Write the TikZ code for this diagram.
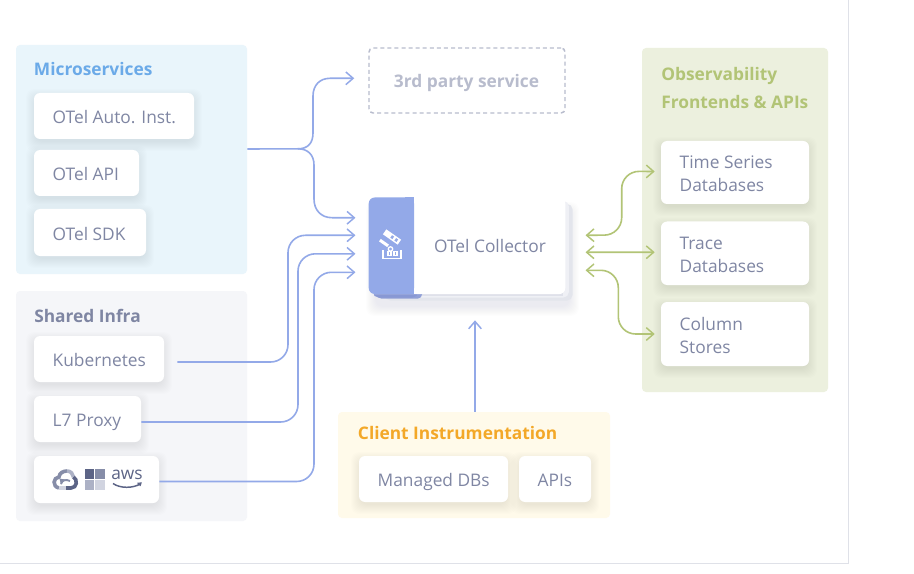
\documentclass[tikz,border=0pt]{standalone}
\usepackage{fontspec}
\setmainfont{Open Sans}
\usetikzlibrary{arrows.meta,calc}
\definecolor{ink}{HTML}{7F86A3}
\definecolor{flow}{HTML}{93A9E8}
\definecolor{leaf}{HTML}{B2C476}
\definecolor{edgeline}{HTML}{DFE1E8}
\definecolor{microbg}{HTML}{E9F5FB}
\definecolor{infrabg}{HTML}{F5F6F9}
\definecolor{frontbg}{HTML}{ECF0DE}
\definecolor{clientbg}{HTML}{FFFAEA}
\definecolor{microtitle}{HTML}{6BAAE8}
\definecolor{clienttitle}{HTML}{F3A828}
\definecolor{ghost}{HTML}{B8BCCD}
\definecolor{logoa}{HTML}{5C6486}
\definecolor{logob}{HTML}{868DA8}
\definecolor{logoc}{HTML}{ACB1C5}
\definecolor{logod}{HTML}{D1D4E0}
\definecolor{shadowblue}{HTML}{3C4678}
\definecolor{stackone}{HTML}{E3E5EC}
\definecolor{stacktwo}{HTML}{EFF0F5}
\definecolor{stackthree}{HTML}{DFE1EA}
\definecolor{bluedark}{HTML}{8898D4}
\newcommand{\softshadow}[5]{%
  \foreach \i in {1,...,10}{
    \fill[#5,opacity=.009,rounded corners=6pt]
      (#1-\i+2,#2-\i+6) rectangle (#3+\i-2,#4+\i+2);
  }}
\newcommand{\card}[6]{% name x0 y0 x1 y1 text
  \softshadow{#2}{#3}{#4}{#5}{black}
  \pgfmathsetmacro{\cw}{(#4-#2)*.75}
  \pgfmathsetmacro{\ch}{(#5-#3)*.75}
  \node[cardbox,minimum width=\cw pt,minimum height=\ch pt] (#1) at ({(#2+#4)/2},{(#3+#5)/2}) {};
  \node[cardtext] (#1t) at ($(#1.west)+(18.7,3.2)$) {\strut #6\strut};
}
\tikzset{
  x=.75pt,y=-.75pt,
  panel/.style={rounded corners=3pt,inner sep=0pt},
  cardbox/.style={fill=white,rounded corners=4.5pt,inner sep=0pt},
  cardtext/.style={text=ink,font=\fontsize{13}{17.2}\selectfont,align=left,inner sep=0pt,anchor=west},
  paneltitle/.style={font=\fontsize{13}{21}\selectfont\bfseries,anchor=west,align=left,inner sep=0pt},
  flowline/.style={flow,line width=1.2pt,rounded corners=13pt},
  leafline/.style={leaf,line width=1.2pt,rounded corners=13pt},
  opentip/.style={-{Straight Barb[length=5.5pt,width=9.5pt,line width=1.1pt]}},
  bothtip/.style={{Straight Barb[length=5.5pt,width=9.5pt,line width=1.1pt]}-{Straight Barb[length=5.5pt,width=9.5pt,line width=1.1pt]}},
}
\begin{document}
\begin{tikzpicture}
\useasboundingbox (0,0) rectangle (914,574);
\fill[white] (0,0) rectangle (914,574);
\draw[edgeline,line width=.9pt] (0,563.5) -- (848.5,563.5) -- (848.5,0);

% panels
\node[panel,fill=microbg,minimum width=173.25pt,minimum height=171.75pt] (micro) at (131.5,159.5) {};
\node[panel,fill=infrabg,minimum width=173.25pt,minimum height=172.5pt] (infra) at (131.5,406) {};
\node[panel,fill=frontbg,minimum width=139.5pt,minimum height=258pt] (front) at (735,220) {};
\node[panel,fill=clientbg,minimum width=204pt,minimum height=79.5pt] (client) at (474,465) {};

\node[paneltitle,text=microtitle] (microt) at (33.7,69.5) {Microservices};
\node[paneltitle,text=ink] (infrat) at (34,315.5) {Shared Infra};
\node[paneltitle,text=leaf] (frontt) at (661,88.5) {Observability\\Frontends \& APIs};
\node[paneltitle,text=clienttitle] (clientt) at (357.7,432.5) {Client Instrumentation};

% cards
\card{auto}{34}{93}{194}{139}{OTel Auto. Inst.}
\card{api}{34}{150}{139}{196}{OTel API}
\card{sdk}{34}{209}{146}{256}{OTel SDK}
\card{k8s}{34}{336}{164}{382}{Kubernetes}
\card{proxy}{34}{396}{141}{442}{L7 Proxy}
\card{cloud}{34}{456}{159}{503}{}
\card{tsdb}{661}{141}{809}{204}{Time Series\\Databases}
\card{trace}{661}{221.5}{809}{285}{Trace\\Databases}
\card{cols}{661}{302}{809}{366}{Column\\Stores}
\card{mdb}{359}{456}{508}{502}{Managed DBs}
\card{apis}{519}{456}{591}{502}{APIs}

% cloud logos
\draw[logob,line width=2.7pt] (59,488) .. controls (52,486.5) and (53,477.5) .. (59,477) .. controls (59.5,473) and (63,471) .. (67,471);
\draw[logoc,line width=2.7pt] (67,471) .. controls (71,471) and (73,474) .. (73.5,477);
\draw[logoa,line width=2.7pt] (73.5,477) .. controls (78,479.5) and (77,488) .. (71,488) -- (66,488);
\draw[logod,line width=2.7pt] (66,488) -- (59,488);
\draw[logob,line width=1.4pt] (61,484) .. controls (62,480) and (66,479) .. (70,481);
\fill[logob] (59.5,478.5) -- (65,479.5) -- (61,484.5) -- cycle;
\fill[logoa] (85,469) rectangle (94.2,478.6);
\fill[logob] (95.2,469) rectangle (104.5,478.6);
\fill[logoc] (85,479.6) rectangle (94.2,489.5);
\fill[logod] (95.2,479.6) rectangle (104.5,489.5);
\node[text=logoa,font=\fontsize{13}{13}\selectfont,inner sep=0pt] (awstext) at (127,475) {aws};
\draw[logoa,line width=1.1pt] (113,483.5) .. controls (120,488.5) and (133,488.5) .. (140.5,483.8);
\draw[logoa,line width=.9pt] (137.5,483.3) -- (141,483) -- (140,486);

% third party
\node[draw=ghost,dash pattern=on 3pt off 2.3pt,line width=1.1pt,rounded corners=3pt,minimum width=147pt,minimum height=48.75pt,inner sep=0pt] (third) at (467,80.5) {};
\node[text=ghost,font=\fontsize{13}{15}\selectfont\bfseries,inner sep=0pt] (thirdt) at (466.5,82.5) {3rd party service};

% collector
\softshadow{374}{206}{571}{304}{shadowblue}
\fill[stackone,rounded corners=4pt] (385,204) rectangle (572.5,300.5);
\fill[stacktwo,rounded corners=4pt] (385,201) rectangle (568.8,297.5);
\fill[stackthree] (420,293) rectangle (563,295.5);
\fill[bluedark,rounded corners=4pt] (373,210) rectangle (418,297.5);
\fill[bluedark,opacity=.9,rounded corners=3pt] (377,290) rectangle (422,298.5);
\node[fill=white,rounded corners=4.5pt,minimum width=147.4pt,minimum height=72.4pt,inner sep=0pt] (coll) at (467,245.8) {};
\fill[flow,rounded corners=4.5pt] (368.7,197.5) rectangle (414,294);
\fill[flow] (405,197.5) rectangle (414,294);
\node[text=ink,font=\fontsize{13}{15}\selectfont,inner sep=0pt] (colltext) at (490,246) {OTel Collector};

% telescope icon
\fill[white,rotate around={-35:(392,237)}] (383,234) rectangle (401,240);
\fill[flow,rotate around={-35:(392,237)}] (391,235.5) rectangle (393.5,238.5);
\fill[flow,rotate around={-35:(392,237)}] (396,235.5) rectangle (398.5,238.5);
\fill[white,rotate around={-35:(384,243)}] (379,241.5) rectangle (389,244.5);
\draw[white,line width=1pt] (390.5,249) circle[radius=2.2];
\draw[white,line width=1.1pt] (383,250) -- (383,258.5) -- (401,258.5) -- (401,250);
\draw[white,line width=1pt] (388,251.5) rectangle (391,255.5);
\draw[white,line width=1pt] (394,251.5) rectangle (397,255.5);

% named ends
\coordinate (mOut) at ($(micro.east)+(0,-10.5)$);
\coordinate (mFork) at (298,148.8);
\coordinate (tIn) at ($(third.west)+(-14,-2.2)$);
\coordinate (cA) at ($(coll.west)+(-13,-28)$);
\coordinate (cB) at ($(coll.west)+(-13,-10.5)$);
\coordinate (cC) at ($(coll.west)+(-13,8)$);
\coordinate (cD) at ($(coll.west)+(-13,26.5)$);
\coordinate (cE) at ($(coll.south)+(8,26)$);
\coordinate (kOut) at ($(k8s.east)+(13,3)$);
\coordinate (gA) at ($(coll.east)+(20,-10.5)$);
\coordinate (gB) at ($(coll.east)+(20,6.5)$);
\coordinate (gC) at ($(coll.east)+(20,24.5)$);
\coordinate (hA) at ($(tsdb.west)+(-6,-1)$);
\coordinate (hB) at ($(trace.west)+(-6,-1)$);
\coordinate (hC) at ($(cols.west)+(-6,0)$);

% connectors
\draw[flow,line width=1.2pt] (mOut) -- (mFork);
\draw[flow,line width=1.2pt,opentip] (mFork) .. controls (308,148.8) and (313,143) .. (313,133) -- (313,96) .. controls (313,85) and (320,78.3) .. (330,78.3) -- (tIn);
\draw[flow,line width=1.2pt,opentip] (mFork) .. controls (308,148.8) and (314,155) .. (314,165) -- (314,199) .. controls (314,210) and (321,217.7) .. (332,217.7) -- (cA);
\draw[flowline,opentip] (kOut) -- (288,362) -- (288,235.3) -- (cB);
\draw[flowline,opentip] ($(proxy.east)+(0,3)$) -- (298,422) -- (298,253.8) -- (cC);
\draw[flowline,opentip] ($(cloud.east)+(0,2)$) -- (314,481.5) -- (314,272.3) -- (cD);
\draw[flow,line width=1.2pt,opentip] ($(client.north)+(1,0)$) -- (cE);

\draw[leafline,bothtip] (gA) -- (621.7,235) -- (621.7,171.3) -- (hA);
\draw[leaf,line width=1.2pt,bothtip] (gB) -- (hB);
\draw[leafline,bothtip] (gC) -- (618.3,270.3) -- (618.3,334) -- (hC);
\end{tikzpicture}
\end{document}
